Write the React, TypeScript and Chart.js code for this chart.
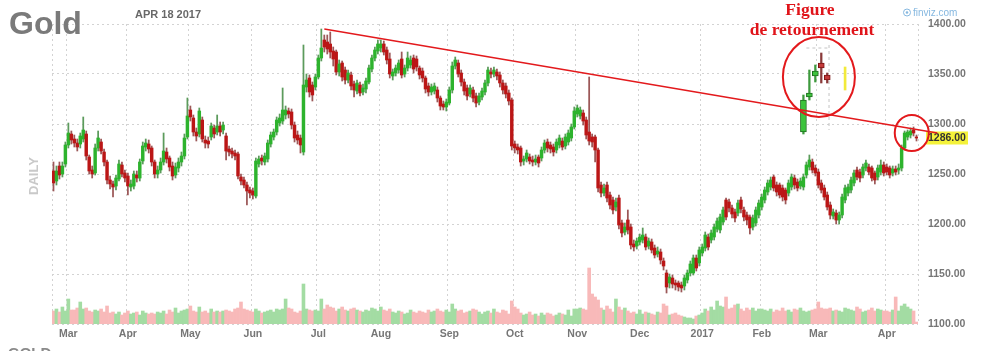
import React, { useEffect, useRef } from 'react';
import { Chart, registerables } from 'chart.js';

Chart.register(...registerables);

// ---------------- data ----------------
const monthLabels = ['', 'Mar', 'Apr', 'May', 'Jun', 'Jul', 'Aug', 'Sep', 'Oct', 'Nov', 'Dec', '2017', 'Feb', 'Mar', 'Apr'];
const monthSessions = [5, 20, 21, 21, 22, 21, 23, 22, 21, 21, 21, 20, 19, 23, 11];

const opens = [
  1253, 1243, 1258, 1250, 1260,
  1279, 1290, 1285, 1281, 1280, 1285, 1290, 1267, 1254, 1251, 1276, 1282, 1272, 1262, 1244, 1240, 1238, 1245, 1259, 1251,
  1248, 1237, 1238, 1249, 1246, 1263, 1277, 1280, 1276, 1262, 1250, 1254, 1262, 1272, 1266, 1258, 1249, 1256, 1262, 1268, 1287,
  1314, 1306, 1292, 1290, 1304, 1284, 1283, 1287, 1296, 1292, 1298, 1294, 1288, 1275, 1273, 1271, 1270, 1247, 1244, 1239, 1234,
  1233, 1228, 1260, 1266, 1262, 1265, 1280, 1287, 1292, 1301, 1303, 1309, 1313, 1312, 1299, 1289, 1286, 1272, 1337, 1346, 1339, 1337,
  1347, 1366, 1384, 1382, 1380, 1373, 1372, 1352, 1361, 1354, 1344, 1349, 1340, 1333, 1339, 1332, 1335, 1342, 1355, 1366, 1373,
  1376, 1380, 1374, 1365, 1348, 1351, 1354, 1365, 1350, 1356, 1359, 1366, 1365, 1356, 1353, 1346, 1338, 1332, 1333, 1334, 1326, 1320, 1317,
  1321, 1334, 1358, 1361, 1351, 1342, 1336, 1330, 1334, 1328, 1322, 1327, 1332, 1341, 1352, 1350, 1352, 1349, 1341, 1338, 1331, 1324,
  1280, 1277, 1276, 1263, 1265, 1267, 1264, 1262, 1267, 1266, 1274, 1282, 1279, 1277, 1274, 1279, 1283, 1278, 1282, 1286, 1297,
  1310, 1308, 1311, 1304, 1292, 1287, 1287, 1274, 1239, 1231, 1239, 1229, 1224, 1217, 1226, 1201, 1192, 1204, 1197, 1180, 1178,
  1182, 1184, 1187, 1178, 1182, 1176, 1170, 1172, 1163, 1151, 1141, 1146, 1141, 1141, 1139, 1138, 1144, 1151, 1151, 1166, 1161,
  1171, 1176, 1187, 1184, 1187, 1195, 1194, 1202, 1224, 1222, 1216, 1212, 1211, 1224, 1214, 1209, 1207, 1197, 1201, 1209,
  1217, 1224, 1232, 1237, 1247, 1239, 1239, 1236, 1234, 1231, 1237, 1246, 1242, 1238, 1237, 1249, 1257, 1262, 1256,
  1252, 1241, 1236, 1229, 1219, 1208, 1211, 1204, 1209, 1224, 1231, 1234, 1241, 1254, 1252, 1249, 1256, 1257, 1256, 1251, 1247, 1252, 1259,
  1257, 1256, 1251, 1255, 1254, 1256, 1276, 1287, 1289, 1294, 1287,
];
const closes = [
  1241, 1253, 1249, 1258, 1279,
  1291, 1284, 1281, 1277, 1288, 1294, 1268, 1253, 1250, 1276, 1286, 1273, 1262, 1244, 1240, 1237, 1246, 1260, 1250, 1246,
  1238, 1240, 1250, 1246, 1262, 1278, 1281, 1275, 1262, 1250, 1254, 1262, 1273, 1265, 1257, 1248, 1257, 1262, 1268, 1286, 1308,
  1307, 1292, 1288, 1313, 1285, 1281, 1280, 1298, 1290, 1298, 1292, 1299, 1273, 1272, 1270, 1268, 1248, 1243, 1239, 1233, 1231,
  1229, 1263, 1265, 1263, 1268, 1281, 1289, 1292, 1304, 1306, 1314, 1314, 1310, 1299, 1286, 1284, 1279, 1339, 1344, 1332, 1329, 1347,
  1366, 1376, 1377, 1375, 1372, 1365, 1352, 1360, 1347, 1344, 1351, 1338, 1334, 1341, 1331, 1336, 1343, 1356, 1366, 1374, 1380,
  1380, 1372, 1364, 1350, 1352, 1356, 1361, 1349, 1356, 1366, 1364, 1355, 1357, 1349, 1346, 1335, 1332, 1337, 1338, 1326, 1318, 1317, 1322,
  1334, 1358, 1364, 1350, 1342, 1333, 1328, 1336, 1326, 1321, 1328, 1333, 1341, 1354, 1350, 1354, 1348, 1341, 1334, 1330, 1323, 1278,
  1276, 1274, 1262, 1265, 1271, 1263, 1262, 1265, 1261, 1274, 1281, 1276, 1275, 1272, 1282, 1286, 1277, 1287, 1291, 1297, 1313,
  1316, 1314, 1303, 1289, 1283, 1282, 1274, 1236, 1231, 1236, 1226, 1219, 1214, 1222, 1199, 1191, 1197, 1194, 1179, 1177, 1183,
  1187, 1189, 1177, 1183, 1174, 1169, 1173, 1164, 1158, 1137, 1147, 1140, 1139, 1137, 1136, 1146, 1151, 1160, 1166, 1156, 1174,
  1177, 1189, 1177, 1191, 1197, 1203, 1207, 1214, 1207, 1216, 1210, 1206, 1221, 1215, 1207, 1204, 1196, 1206, 1214, 1221,
  1227, 1234, 1241, 1244, 1236, 1232, 1229, 1227, 1224, 1241, 1247, 1239, 1236, 1243, 1247, 1259, 1264, 1254, 1251,
  1239, 1234, 1227, 1217, 1209, 1212, 1204, 1209, 1227, 1236, 1237, 1244, 1251, 1247, 1246, 1257, 1261, 1252, 1246, 1244, 1256, 1259, 1251,
  1252, 1249, 1255, 1252, 1256, 1276, 1291, 1292, 1293, 1291, 1286,
];
const highs = [
  1262, 1258, 1262, 1262, 1282,
  1301, 1293, 1289, 1285, 1291, 1307, 1293, 1269, 1258, 1280, 1293, 1285, 1275, 1264, 1248, 1243, 1249, 1264, 1262, 1254,
  1251, 1244, 1253, 1253, 1265, 1282, 1285, 1284, 1278, 1264, 1258, 1266, 1291, 1276, 1268, 1262, 1261, 1266, 1272, 1290, 1326,
  1318, 1309, 1296, 1316, 1307, 1288, 1287, 1301, 1299, 1309, 1302, 1302, 1291, 1278, 1276, 1274, 1272, 1250, 1247, 1242, 1237,
  1236, 1266, 1268, 1269, 1271, 1284, 1292, 1295, 1307, 1310, 1336, 1318, 1316, 1315, 1302, 1293, 1289, 1379, 1350, 1349, 1342, 1350,
  1369, 1395, 1389, 1389, 1392, 1377, 1374, 1364, 1363, 1357, 1354, 1352, 1343, 1344, 1342, 1340, 1346, 1359, 1369, 1377, 1384,
  1384, 1383, 1377, 1371, 1355, 1359, 1364, 1372, 1359, 1372, 1368, 1369, 1368, 1358, 1356, 1348, 1341, 1340, 1341, 1337, 1328, 1323, 1325,
  1337, 1362, 1367, 1364, 1354, 1345, 1339, 1339, 1337, 1331, 1331, 1336, 1344, 1357, 1356, 1357, 1355, 1352, 1344, 1341, 1334, 1326,
  1283, 1280, 1278, 1268, 1274, 1270, 1268, 1269, 1269, 1277, 1284, 1285, 1282, 1280, 1285, 1289, 1286, 1290, 1294, 1300, 1317,
  1319, 1317, 1314, 1307, 1347, 1290, 1289, 1276, 1242, 1240, 1242, 1232, 1227, 1226, 1229, 1204, 1201, 1214, 1200, 1184, 1186,
  1190, 1196, 1190, 1186, 1185, 1179, 1177, 1175, 1166, 1154, 1150, 1149, 1144, 1143, 1142, 1149, 1154, 1163, 1169, 1169, 1177,
  1180, 1192, 1190, 1194, 1200, 1206, 1210, 1217, 1226, 1225, 1219, 1215, 1224, 1227, 1217, 1212, 1209, 1209, 1217, 1224,
  1230, 1237, 1244, 1247, 1249, 1242, 1241, 1239, 1236, 1244, 1250, 1249, 1245, 1246, 1250, 1262, 1269, 1265, 1259,
  1255, 1244, 1239, 1232, 1222, 1215, 1214, 1212, 1230, 1239, 1240, 1247, 1254, 1257, 1255, 1260, 1264, 1260, 1258, 1253, 1259, 1264, 1262,
  1260, 1258, 1258, 1258, 1260, 1279, 1293, 1294, 1296, 1297, 1289,
];
const lows = [
  1233, 1239, 1245, 1247, 1257,
  1276, 1280, 1277, 1273, 1276, 1282, 1264, 1250, 1246, 1249, 1273, 1270, 1258, 1240, 1235, 1227, 1234, 1243, 1247, 1242,
  1229, 1233, 1235, 1242, 1243, 1260, 1273, 1271, 1258, 1246, 1246, 1251, 1259, 1261, 1253, 1244, 1246, 1252, 1258, 1265, 1285,
  1303, 1288, 1283, 1287, 1282, 1276, 1276, 1284, 1286, 1289, 1288, 1290, 1264, 1268, 1266, 1264, 1245, 1239, 1236, 1219, 1226,
  1225, 1226, 1257, 1259, 1259, 1262, 1277, 1284, 1289, 1298, 1300, 1305, 1306, 1295, 1282, 1280, 1271, 1269, 1332, 1327, 1323, 1334,
  1345, 1363, 1372, 1370, 1366, 1358, 1349, 1348, 1343, 1340, 1341, 1334, 1327, 1330, 1328, 1329, 1331, 1340, 1352, 1363, 1370,
  1372, 1369, 1360, 1346, 1344, 1348, 1351, 1346, 1347, 1353, 1356, 1351, 1353, 1345, 1342, 1331, 1328, 1329, 1330, 1322, 1314, 1314, 1313,
  1319, 1331, 1355, 1347, 1338, 1329, 1324, 1327, 1322, 1317, 1319, 1324, 1329, 1338, 1346, 1347, 1344, 1337, 1330, 1326, 1319, 1274,
  1271, 1270, 1258, 1259, 1262, 1260, 1258, 1259, 1257, 1263, 1271, 1272, 1271, 1268, 1271, 1276, 1274, 1275, 1279, 1283, 1295,
  1307, 1305, 1299, 1285, 1279, 1277, 1262, 1232, 1227, 1228, 1222, 1215, 1210, 1213, 1195, 1187, 1189, 1190, 1175, 1173, 1175,
  1179, 1181, 1174, 1175, 1171, 1166, 1167, 1160, 1154, 1131, 1136, 1136, 1134, 1133, 1132, 1134, 1141, 1148, 1149, 1153, 1158,
  1168, 1173, 1174, 1181, 1184, 1192, 1191, 1199, 1204, 1212, 1206, 1202, 1208, 1211, 1203, 1199, 1190, 1194, 1198, 1206,
  1214, 1221, 1229, 1234, 1233, 1228, 1226, 1223, 1220, 1228, 1234, 1235, 1233, 1235, 1234, 1246, 1254, 1251, 1248,
  1236, 1231, 1224, 1214, 1205, 1205, 1200, 1200, 1206, 1221, 1228, 1231, 1238, 1244, 1242, 1246, 1253, 1249, 1243, 1240, 1244, 1249, 1248,
  1249, 1246, 1248, 1249, 1250, 1253, 1274, 1284, 1286, 1288, 1283,
];
// volume, thousand contracts
const volumes = [
  130, 150, 120, 170, 130,
  250, 140, 140, 160, 220, 150, 160, 130, 120, 140, 130, 150, 120, 180, 110, 120, 100, 120, 90, 110,
  130, 100, 110, 120, 90, 130, 110, 100, 110, 100, 120, 110, 130, 100, 140, 120, 160, 110, 130, 140, 150,
  180, 130, 120, 170, 120, 130, 110, 150, 120, 130, 120, 130, 140, 130, 120, 150, 160, 220, 150, 140, 130,
  120, 150, 130, 110, 120, 130, 140, 120, 150, 140, 150, 250, 160, 150, 120, 110, 130, 400, 150, 140, 130, 140,
  130, 250, 150, 190, 170, 160, 130, 150, 170, 140, 130, 150, 160, 140, 130, 120, 140, 130, 160, 150, 130,
  170, 140, 130, 150, 120, 110, 130, 120, 100, 110, 140, 120, 110, 130, 120, 110, 140, 120, 130, 150, 130, 120, 140,
  120, 200, 150, 130, 140, 110, 120, 130, 150, 140, 120, 100, 120, 130, 110, 150, 120, 110, 140, 130, 100, 230,
  170, 150, 110, 90, 100, 120, 90, 100, 80, 110, 90, 110, 100, 80, 90, 110, 100, 90, 140, 80, 150,
  150, 160, 150, 140, 560, 300, 270, 240, 160, 140, 180, 150, 120, 250, 170, 140, 160, 130, 110, 120, 100,
  140, 100, 120, 110, 100, 90, 120, 110, 200, 180, 90, 100, 110, 90, 80, 70, 60, 60, 50, 80, 90,
  110, 150, 130, 170, 140, 230, 180, 170, 270, 150, 160, 190, 200, 150, 130, 160, 140, 160, 130, 150,
  150, 140, 130, 150, 120, 140, 130, 160, 130, 140, 120, 150, 140, 160, 130, 120, 130, 140, 150,
  220, 160, 150, 150, 160, 130, 140, 130, 120, 160, 150, 140, 130, 170, 150, 120, 130, 140, 160, 130, 150, 140, 130,
  130, 120, 140, 270, 130, 180, 200, 170, 150, 130, 20,
];

const priceMin = 1100;
const priceMax = 1400;
const priceStep = 50;
const lastPrice = 1286;

// magnified inset of the reversal candles (anchored at session indices)
const insetAt = [252, 254, 256, 258, 260];
const insetOpen = [1292, 1327, 1348, 1361, 1349];
const insetClose = [1324, 1331, 1353, 1356, 1344];
const insetHigh = [1329, 1354, 1359, 1371, 1351];
const insetLow = [1290, 1324, 1342, 1341, 1341];
const markerAt = 266;
const markerRange = [1334, 1357];

// trend line and annotations (session index, price)
const trendStart = [91, 1395];
const trendEnd = [297, 1291];
const circleAt = [[257.2, 1347], [288.4, 1291]];
const circleRadius = [[36, 40], [17, 18]];
const noteText = ['Figure', 'de retournement'];
const noteAt = [[254.2, 1409.5], [254.9, 1389]];

// ---------------- chart ----------------
const labels: string[] = [];
monthSessions.forEach((n, m) => {
  for (let d = 0; d < n; d++) labels.push(d === 0 ? monthLabels[m] : '');
});

const SANS = '"Liberation Sans", Arial, sans-serif';
const SERIF = '"Liberation Serif", "Times New Roman", serif';
const up = closes.map((c, i) => c >= opens[i]);

const nullSeries = () => labels.map(() => null as any);
const insetBody = nullSeries();
const insetWick = nullSeries();
const insetUp: boolean[] = labels.map(() => true);
insetAt.forEach((at, k) => {
  insetBody[at] = [insetOpen[k], insetClose[k]];
  insetWick[at] = [insetLow[k], insetHigh[k]];
  insetUp[at] = insetClose[k] >= insetOpen[k];
});
const marker = nullSeries();
marker[markerAt] = markerRange;

const overlay = {
  id: 'overlay',
  beforeDatasetsDraw(chart: any) {
    const { ctx } = chart;
    const x = chart.scales.x;
    const y = chart.scales.y;
    ctx.save();
    ctx.strokeStyle = '#c4c4c4';
    ctx.lineWidth = 1;
    ctx.setLineDash([3, 3]);
    const xr = x.getPixelForValue(insetAt[insetAt.length - 1] + 0.6);
    ctx.beginPath();
    ctx.moveTo(xr, y.getPixelForValue(1379));
    ctx.lineTo(xr, y.getPixelForValue(1294));
    ctx.moveTo(x.getPixelForValue(insetAt[0] + 1), y.getPixelForValue(1376));
    ctx.lineTo(xr, y.getPixelForValue(1376));
    ctx.stroke();
    ctx.restore();
  },
  afterDraw(chart: any) {
    const { ctx, chartArea } = chart;
    const x = chart.scales.x;
    const y = chart.scales.y;
    ctx.save();
    // last price tag
    const py = y.getPixelForValue(lastPrice);
    ctx.fillStyle = '#f4f23a';
    ctx.fillRect(chartArea.right + 8, py - 6.5, 42, 13);
    ctx.fillStyle = '#333';
    ctx.font = `bold 10.5px ${SANS}`;
    ctx.textBaseline = 'middle';
    ctx.textAlign = 'left';
    ctx.fillText(lastPrice.toFixed(2), chartArea.right + 10, py + 0.5);

    // trend line
    ctx.strokeStyle = '#e3191c';
    ctx.lineWidth = 1.3;
    ctx.beginPath();
    ctx.moveTo(x.getPixelForValue(trendStart[0]), y.getPixelForValue(trendStart[1]));
    ctx.lineTo(x.getPixelForValue(trendEnd[0]), y.getPixelForValue(trendEnd[1]));
    ctx.stroke();

    // circles
    ctx.lineWidth = 2;
    circleAt.forEach(([ci, cp], k) => {
      ctx.beginPath();
      ctx.ellipse(x.getPixelForValue(ci), y.getPixelForValue(cp), circleRadius[k][0], circleRadius[k][1], 0, 0, Math.PI * 2);
      ctx.stroke();
    });

    // annotation text
    ctx.fillStyle = '#e0141a';
    ctx.font = `bold 17.5px ${SERIF}`;
    ctx.textAlign = 'center';
    ctx.textBaseline = 'alphabetic';
    noteText.forEach((t, k) => {
      ctx.fillText(t, x.getPixelForValue(noteAt[k][0]), y.getPixelForValue(noteAt[k][1]));
    });

    // titles
    ctx.textAlign = 'left';
    ctx.fillStyle = '#7a7a7a';
    ctx.font = `bold 32px ${SANS}`;
    ctx.fillText('Gold', 9, 34);
    ctx.fillStyle = '#686868';
    ctx.font = `bold 11px ${SANS}`;
    ctx.fillText('APR 18 2017', 135, 18);

    // finviz mark
    ctx.fillStyle = '#86b8e0';
    ctx.strokeStyle = '#86b8e0';
    ctx.lineWidth = 1;
    ctx.beginPath();
    ctx.arc(907, 12.5, 3.5, 0, Math.PI * 2);
    ctx.stroke();
    ctx.beginPath();
    ctx.arc(907, 12.5, 1.3, 0, Math.PI * 2);
    ctx.fill();
    ctx.font = `10px ${SANS}`;
    ctx.fillText('finviz.com', 913, 16);

    // DAILY
    ctx.save();
    ctx.translate(38, 176);
    ctx.rotate(-Math.PI / 2);
    ctx.textAlign = 'center';
    ctx.fillStyle = '#c9c9c9';
    ctx.font = `bold 13px ${SANS}`;
    ctx.fillText('DAILY', 0, 0);
    ctx.restore();

    // bottom caption (cut by the frame)
    ctx.fillStyle = '#8a8a8a';
    ctx.font = `bold 15px ${SANS}`;
    ctx.textBaseline = 'top';
    ctx.fillText('GOLD', 8, 346);
    ctx.restore();
  },
};

const gridColor = '#d3d3d3';

export default function App() {
  const ref = useRef<HTMLCanvasElement>(null);
  useEffect(() => {
    document.body.style.margin = '0';
    const chart = new Chart(ref.current as HTMLCanvasElement, {
      type: 'bar',
      data: {
        labels,
        datasets: [
          {
            label: 'Volume',
            data: volumes,
            yAxisID: 'yv',
            backgroundColor: up.map((u) => (u ? '#a3dca3' : '#f8b9b9')),
            barPercentage: 1,
            categoryPercentage: 1,
            grouped: false,
            order: 5,
          } as any,
          {
            label: 'Wick',
            data: lows.map((l, i) => [l, highs[i]]),
            yAxisID: 'y',
            backgroundColor: up.map((u) => (u ? '#5c9b5c' : '#9c5858')),
            barThickness: 1.1,
            grouped: false,
            order: 4,
          },
          {
            label: 'Body',
            data: opens.map((o, i) => [o, closes[i]]),
            yAxisID: 'y',
            backgroundColor: up.map((u) => (u ? '#2db32d' : '#bb1616')),
            barThickness: 2.8,
            minBarLength: 1,
            grouped: false,
            order: 3,
          },
          {
            label: 'Inset wick',
            data: insetWick,
            yAxisID: 'y',
            backgroundColor: insetUp.map((u) => (u ? '#3e9a3e' : '#8a3a3a')),
            barThickness: 1.6,
            grouped: false,
            order: 2,
          },
          {
            label: 'Inset body',
            data: insetBody,
            yAxisID: 'y',
            backgroundColor: insetUp.map((u) => (u ? '#3cc43c' : '#c43a3a')),
            borderColor: insetUp.map((u) => (u ? '#1f6e1f' : '#7a1414')),
            borderWidth: 1,
            borderSkipped: false,
            barThickness: 6,
            grouped: false,
            order: 1,
          },
          {
            label: 'Marker',
            data: marker,
            yAxisID: 'y',
            backgroundColor: '#f2ea3a',
            barThickness: 2,
            grouped: false,
            order: 1,
          },
        ] as any,
      },
      options: {
        animation: false,
        responsive: false,
        devicePixelRatio: 1,
        events: [],
        layout: { padding: { left: 52, top: 24, right: 0, bottom: 0 } },
        plugins: { legend: { display: false }, tooltip: { enabled: false } },
        scales: {
          x: {
            type: 'category',
            offset: true,
            grid: {
              offset: true,
              drawTicks: false,
              color: (c: any) =>
                c.type !== 'tick' || c.index === 0 || labels[c.index] !== '' ? gridColor : 'rgba(0,0,0,0)',
            },
            border: { display: false, dash: [2, 3] },
            ticks: {
              autoSkip: false,
              maxRotation: 0,
              minRotation: 0,
              padding: 4,
              color: '#767676',
              font: { family: SANS, size: 10.5, weight: 'bold' },
            },
            afterFit: (s: any) => {
              s.height = 27;
            },
          },
          y: {
            type: 'linear',
            position: 'right',
            min: priceMin,
            max: priceMax,
            grid: { color: gridColor, drawTicks: false },
            border: { display: false, dash: [2, 3] },
            ticks: {
              stepSize: priceStep,
              padding: 10,
              color: '#767676',
              font: { family: SANS, size: 10.5, weight: 'bold' },
              callback: (v: any) => Number(v).toFixed(2),
            },
            afterFit: (s: any) => {
              s.width = 63;
            },
          },
          yv: { type: 'linear', display: false, min: 0, max: 3000 },
        },
      } as any,
      plugins: [overlay],
    });
    return () => chart.destroy();
  }, []);
  return (
    <div style={{ position: 'absolute', left: 0, top: 0, width: 981, height: 351, background: '#fff' }}>
      <canvas ref={ref} width={981} height={351} style={{ display: 'block', width: 981, height: 351 }} />
    </div>
  );
}
